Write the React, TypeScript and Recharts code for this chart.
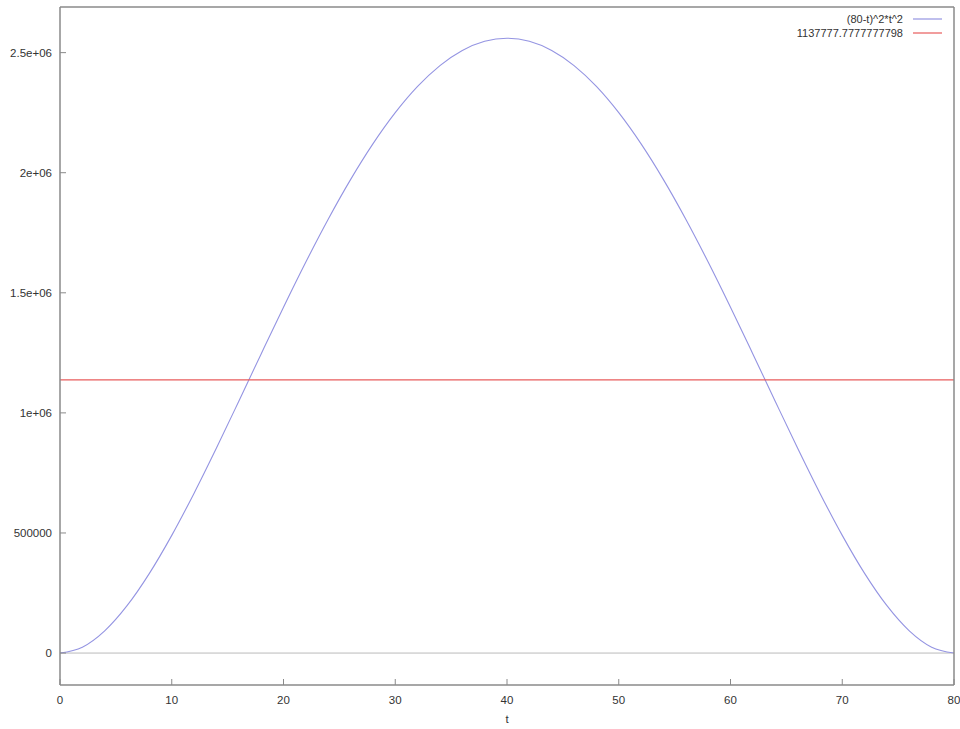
import React from "react";
import { LineChart, Line, XAxis, YAxis, ReferenceLine } from "recharts";

// t values (every 2 units) and values
const tValues = [
  0, 2, 4, 6, 8, 10, 12, 14, 16, 18, 20, 22, 24, 26, 28, 30, 32, 34, 36, 38, 40,
  42, 44, 46, 48, 50, 52, 54, 56, 58, 60, 62, 64, 66, 68, 70, 72, 74, 76, 78, 80,
];
const curveValues = [
  0, 24336, 92416, 197136, 331776, 490000, 665856, 853776, 1048576, 1245456, 1440000,
  1628176, 1806336, 1971216, 2119936, 2250000, 2359296, 2446096, 2509056, 2547216, 2560000,
  2547216, 2509056, 2446096, 2359296, 2250000, 2119936, 1971216, 1806336, 1628176, 1440000,
  1245456, 1048576, 853776, 665856, 490000, 331776, 197136, 92416, 24336, 0,
];
const constantValue = 1137777.7777777798;

const xTicks = [0, 10, 20, 30, 40, 50, 60, 70, 80];
const yTicks = [0, 500000, 1000000, 1500000, 2000000, 2500000];
const yTickLabels = ["0", "500000", "1e+06", "1.5e+06", "2e+06", "2.5e+06"];
const yDomain = [-133000, 2690000];
const xDomain = [0, 80];

const curveName = "(80-t)^2*t^2";
const constantName = "1137777.7777777798";

const data = tValues.map((t, i) => ({ t, curve: curveValues[i], flat: constantValue }));

const BLUE = "#9494e2";
const RED = "#e85c5c";
const BORDER = "#8a8a8a";
const FONT = "'Liberation Sans', Arial, sans-serif";
const TEXT = "#333";
const FS = 11.5;

const fmtY = (v: number) => {
  const i = yTicks.indexOf(v);
  return i >= 0 ? yTickLabels[i] : String(v);
};

const legendRows = [
  { name: curveName, color: BLUE },
  { name: constantName, color: RED },
];

const LegendBox = () => (
  <div
    style={{
      position: "absolute",
      top: 12,
      right: 18,
      fontFamily: FONT,
      fontSize: 11,
      color: TEXT,
    }}
  >
    {legendRows.map((r) => (
      <div key={r.name} style={{ display: "flex", alignItems: "center", justifyContent: "flex-end", height: 14 }}>
        <span style={{ whiteSpace: "nowrap" }}>{r.name}</span>
        <svg width={29} height={4} style={{ marginLeft: 10, display: "block" }}>
          <line x1={0} y1={2} x2={29} y2={2} stroke={r.color} strokeWidth={1.2} />
        </svg>
      </div>
    ))}
  </div>
);

export default function App() {
  return (
    <div style={{ position: "absolute", left: 0, top: 0, width: 960, height: 729, background: "#fff" }}>
      <LineChart width={960} height={729} data={data} margin={{ top: 6, right: 5, left: 0, bottom: 0 }}>
        <XAxis
          xAxisId="bottom"
          dataKey="t"
          type="number"
          domain={xDomain}
          ticks={xTicks}
          height={44}
          tickSize={-6}
          tickMargin={17}
          axisLine={{ stroke: BORDER, strokeWidth: 1.5 }}
          tickLine={{ stroke: BORDER }}
          tick={{ fill: TEXT, fontSize: FS, fontFamily: FONT }}
          label={{ value: "t", position: "insideBottom", offset: 6, fill: TEXT, fontSize: FS, fontFamily: FONT }}
        />
        <XAxis
          xAxisId="top"
          orientation="top"
          dataKey="t"
          type="number"
          domain={xDomain}
          ticks={xTicks}
          height={1}
          tickSize={-6}
          axisLine={{ stroke: BORDER, strokeWidth: 1.5 }}
          tickLine={{ stroke: BORDER }}
          tick={false}
        />
        <YAxis
          yAxisId="left"
          type="number"
          domain={yDomain}
          ticks={yTicks}
          width={60}
          tickSize={-6}
          tickMargin={14}
          tickFormatter={fmtY}
          axisLine={{ stroke: BORDER, strokeWidth: 1.5 }}
          tickLine={{ stroke: BORDER }}
          tick={{ fill: TEXT, fontSize: FS, fontFamily: FONT }}
        />
        <YAxis
          yAxisId="right"
          orientation="right"
          type="number"
          domain={yDomain}
          ticks={yTicks}
          width={1}
          tickSize={-6}
          axisLine={{ stroke: BORDER, strokeWidth: 1.5 }}
          tickLine={{ stroke: BORDER }}
          tick={false}
        />
        <ReferenceLine xAxisId="bottom" yAxisId="left" y={0} stroke="#bbbbbb" strokeWidth={1} />
        <Line
          xAxisId="bottom"
          yAxisId="left"
          dataKey="curve"
          name={curveName}
          type="monotone"
          stroke={BLUE}
          strokeWidth={1.1}
          dot={false}
          isAnimationActive={false}
        />
        <Line
          xAxisId="top"
          yAxisId="right"
          dataKey="flat"
          name={constantName}
          type="linear"
          stroke={RED}
          strokeWidth={1.2}
          dot={false}
          isAnimationActive={false}
        />
      </LineChart>
      <LegendBox />
    </div>
  );
}
